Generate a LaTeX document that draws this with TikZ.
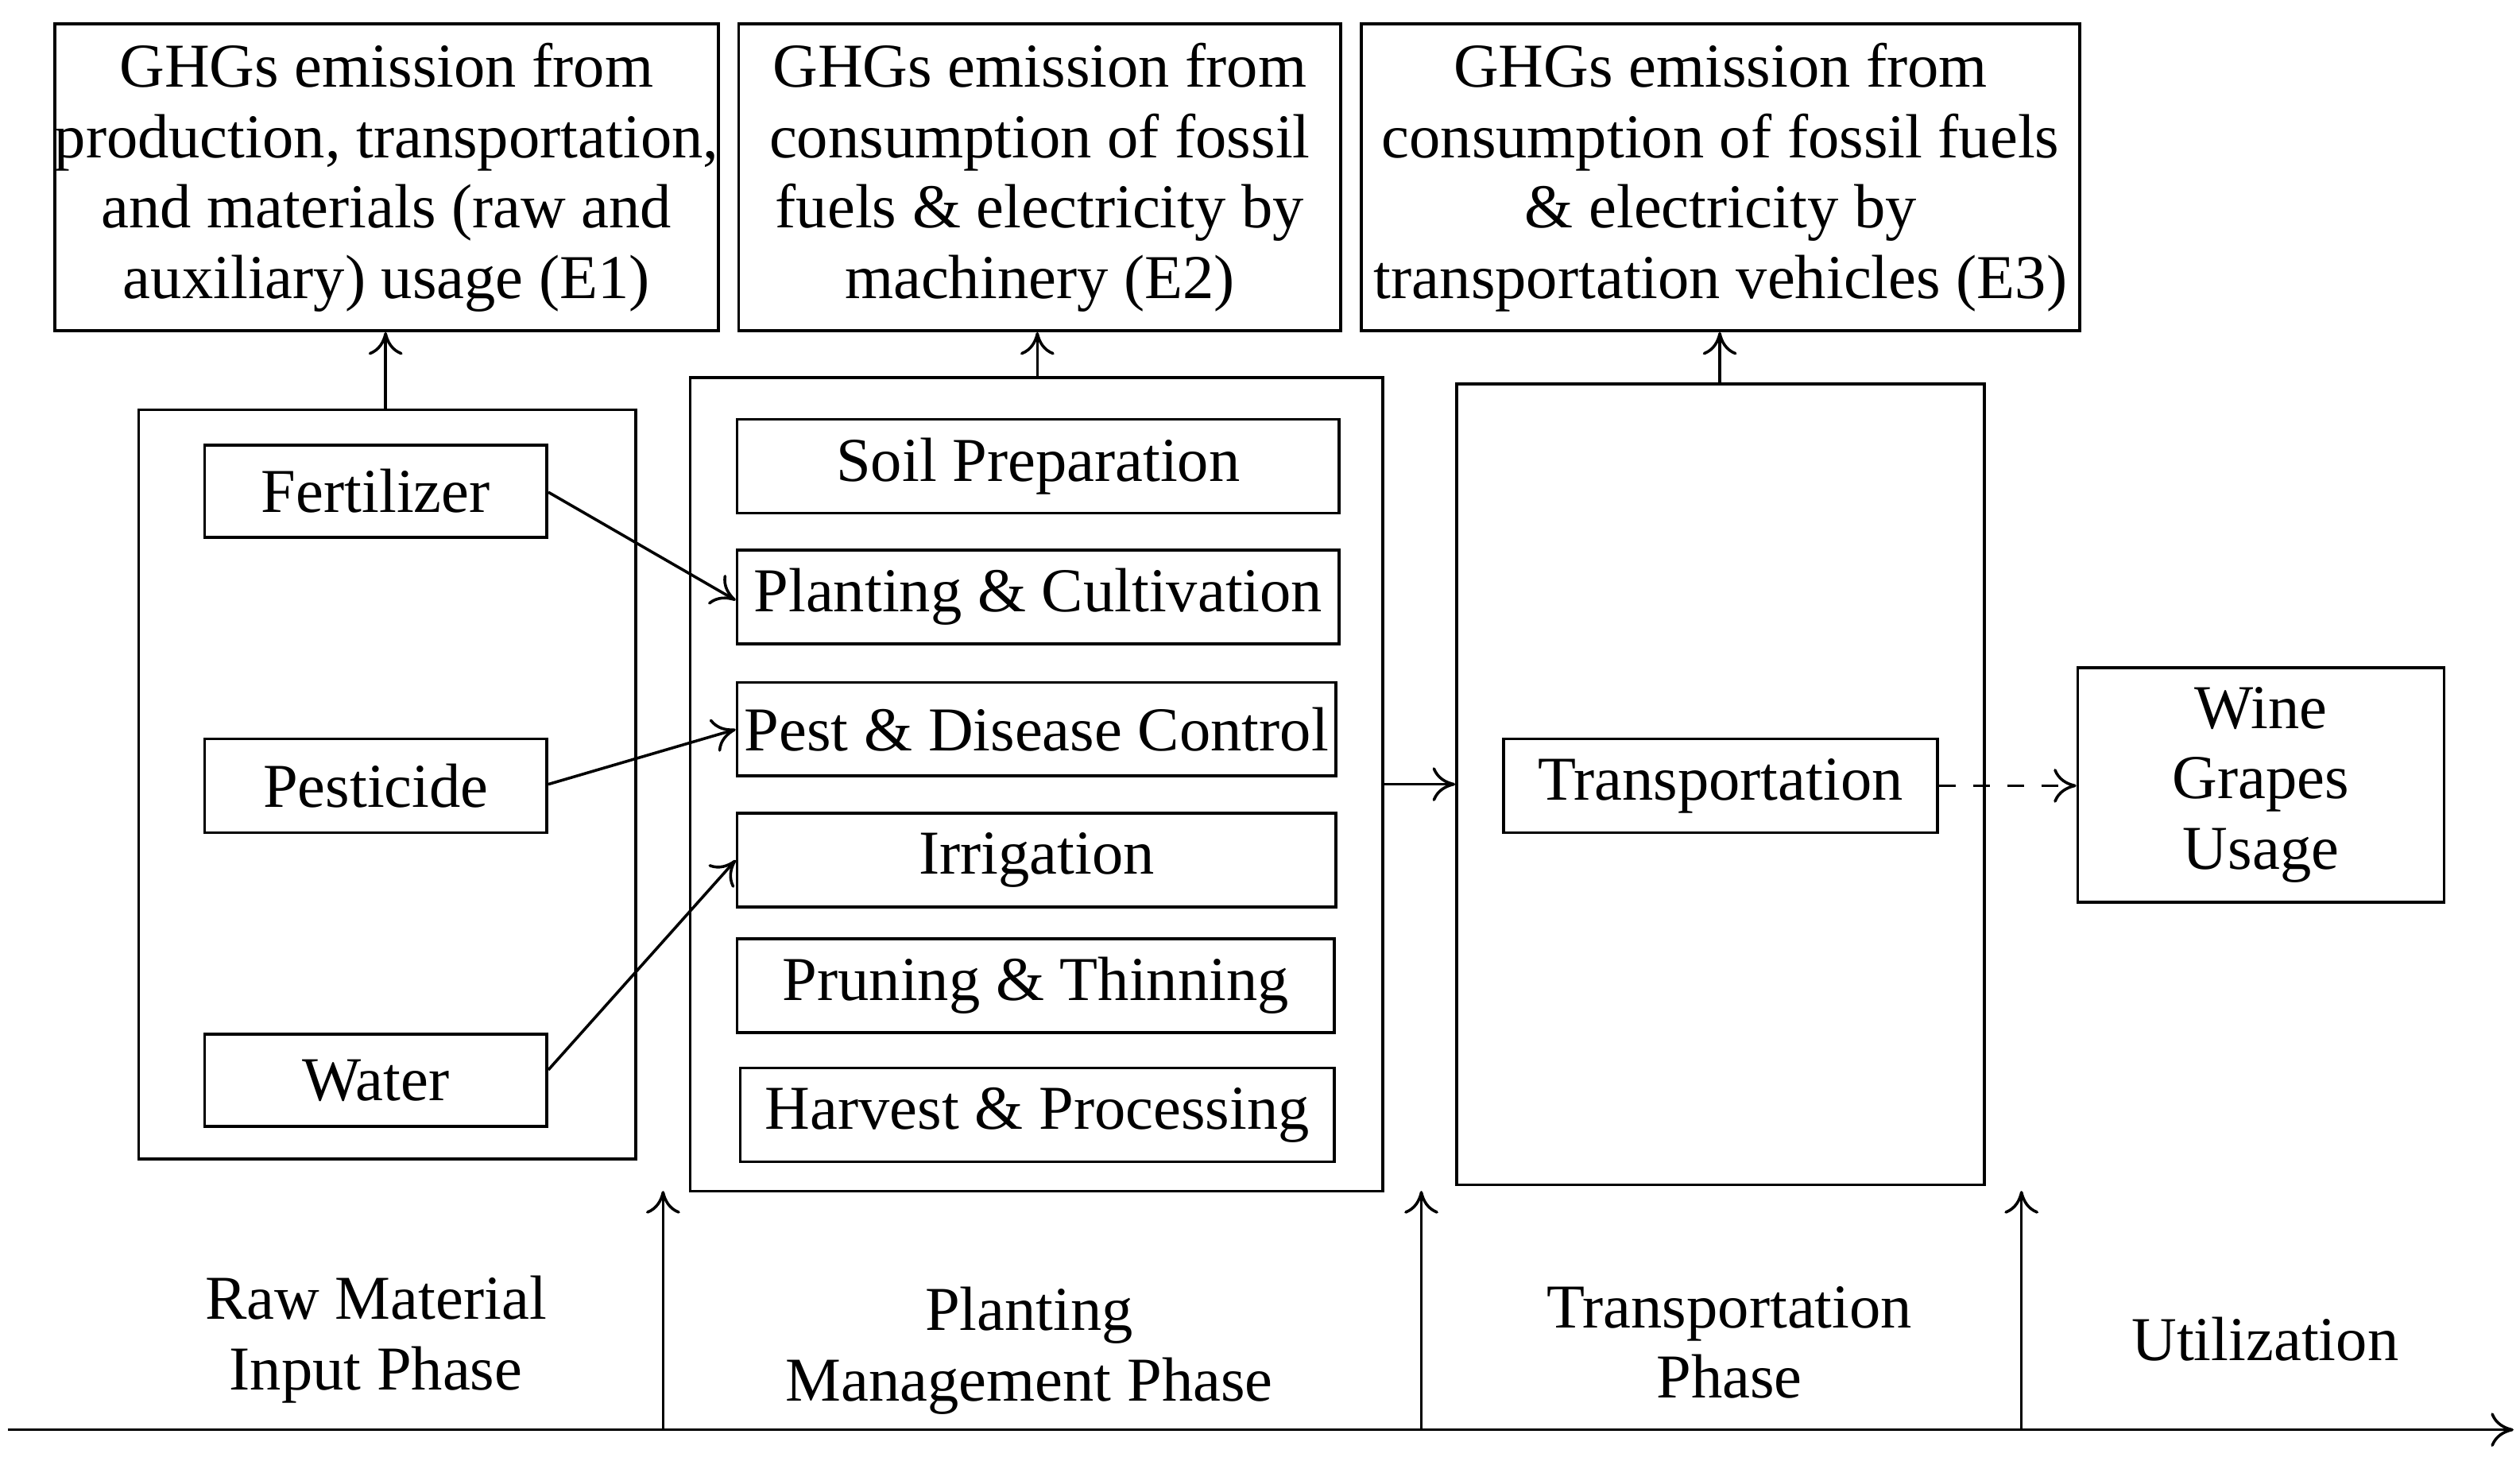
\documentclass[tikz,border=0pt]{standalone}
\usepackage{fontspec}
\setmainfont{Liberation Serif}
\usetikzlibrary{arrows.meta}
\begin{document}
\begin{tikzpicture}[x=0.01cm,y=-0.01cm,
  box/.style={draw,line width=0.5pt,align=center,inner sep=0pt},
  lbl/.style={align=center,font=\fontsize{11}{12.4}\selectfont},
  arr/.style={-{To[length=4pt,width=6pt]},line width=0.5pt}]
\useasboundingbox (0,0) rectangle (1562,910);
\newcommand{\bx}[6]{\node[box,minimum width={(#4-#2)*0.28453pt},minimum height={(#5-#3)*0.28453pt},anchor=north west,font=\fontsize{11}{12.4}\selectfont] (#1) at (#2,#3) {#6};}
\bx{e1}{33}{14}{444}{204}{GHGs emission from\\production, transportation,\\and materials (raw and\\auxiliary) usage (E1)}
\bx{e2}{457}{14}{830}{204}{GHGs emission from\\consumption of fossil\\fuels \& electricity by\\machinery (E2)}
\bx{e3}{843}{14}{1288}{204}{GHGs emission from\\consumption of fossil fuels\\\& electricity by\\transportation vehicles (E3)}
\bx{raw}{85}{253}{393}{717}{}
\bx{fert}{126}{275}{338}{332}{Fertilizer}
\bx{pest}{126}{457}{338}{515}{Pesticide}
\bx{water}{126}{640}{338}{697}{Water}
\bx{plant}{427}{233}{856}{737}{}
\bx{soil}{456}{259}{829}{317}{Soil Preparation}
\bx{cult}{456}{340}{829}{398}{Planting \& Cultivation}
\bx{pdc}{456}{422}{827}{480}{Pest \& Disease Control}
\bx{irr}{456}{503}{827}{561}{Irrigation}
\bx{prun}{456}{581}{826}{639}{Pruning \& Thinning}
\bx{harv}{458}{661}{826}{719}{Harvest \& Processing}
\bx{trc}{902}{237}{1229}{733}{}
\bx{tr}{931}{457}{1200}{515}{Transportation}
\bx{wine}{1287}{413}{1514}{558}{Wine\\Grapes\\Usage}
\draw[arr] (raw.north -| 239,0) -- (e1.south -| 239,0);
\draw[arr] (plant.north -| 643,0) -- (e2.south -| 643,0);
\draw[arr] (trc.north -| 1066,0) -- (e3.south -| 1066,0);
\draw[arr] (fert.east |- 0,305) -- (cult.west |- 0,372);
\draw[arr] (pest.east |- 0,486) -- (pdc.west |- 0,452);
\draw[arr] (water.east |- 0,663) -- (irr.west |- 0,533);
\draw[arr] (plant.east |- 0,486) -- (trc.west |- 0,486);
\draw[arr,dashed] (tr.east) -- (wine.west |- tr.east);
\coordinate (a0) at (5,886); \coordinate (a1) at (1558,886);
\draw[arr] (a0) -- (a1);
\foreach \x/\n in {411/p1,881/p2,1253/p3}{
  \coordinate (\n b) at (\x,886); \coordinate (\n t) at (\x,738);
  \draw[arr] (\n b) -- (\n t);}
\node[lbl] (l1) at (233,830) {Raw Material\\Input Phase};
\node[lbl] (l2) at (638,837) {Planting\\Management Phase};
\node[lbl] (l3) at (1072,832) {Transportation\\Phase};
\node[lbl] (l4) at (1404,830) {Utilization};
\end{tikzpicture}
\end{document}
